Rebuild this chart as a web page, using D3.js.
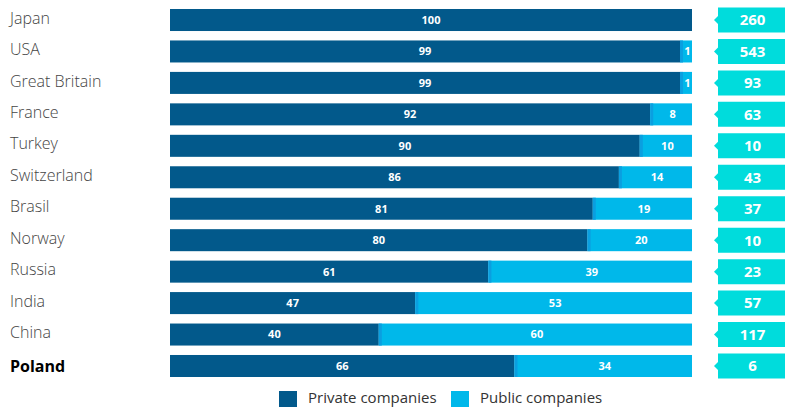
<!DOCTYPE html>
<html>
<head>
<meta charset="utf-8">
<script src="https://cdn.jsdelivr.net/npm/d3@7"></script>
<style>
  html, body { margin: 0; padding: 0; background: #fff; }
  svg { display: block; font-family: "Open Sans", sans-serif; }
</style>
</head>
<body>
<svg id="chart" width="785" height="407"></svg>
<script>
const countries = ["Japan", "USA", "Great Britain", "France", "Turkey", "Switzerland", "Brasil", "Norway", "Russia", "India", "China", "Poland"];
const privateShare = [100, 99, 99, 92, 90, 86, 81, 80, 61, 47, 40, 66];
const publicShare = [0, 1, 1, 8, 10, 14, 19, 20, 39, 53, 60, 34];
const companyCounts = [260, 543, 93, 63, 10, 43, 37, 10, 23, 57, 117, 6];
const seriesNames = ["Private companies", "Public companies"];
const highlighted = "Poland";

const colors = { private: "#02598b", public: "#00b8ea", edge: "#0a9fe0", count: "#00dcdc" };

const svg = d3.select("#chart");

const y = d3.scaleBand().domain(countries).range([9, 377]).paddingInner(0.3).paddingOuter(0);
const x = d3.scaleLinear().domain([0, 100]).range([170, 692]);
const minPublicWidth = 12; // keep tiny public shares wide enough for their label

const rows = svg.selectAll("g.row")
  .data(countries.map((c, i) => {
    const priv = privateShare[i], pub = publicShare[i];
    let split = x(priv);
    if (pub > 0) split = Math.min(split, x(priv + pub) - minPublicWidth);
    return { c, priv, pub, n: companyCounts[i], split };
  }))
  .join("g").attr("class", "row")
  .attr("transform", d => `translate(0,${y(d.c)})`);

const bh = y.bandwidth();

// country labels
rows.append("text")
  .attr("x", 10).attr("y", d => d.c === highlighted ? bh / 2 : bh / 2 - 2).attr("dy", "0.35em")
  .attr("font-size", 16)
  .attr("font-weight", d => d.c === highlighted ? 700 : 300)
  .attr("fill", d => d.c === highlighted ? "#000" : "#444")
  .text(d => d.c);

// private segment
rows.append("rect")
  .attr("x", x(0)).attr("y", 0)
  .attr("width", d => d.split - x(0)).attr("height", bh)
  .attr("fill", colors.private);

// public segment
const pubRows = rows.filter(d => d.pub > 0);
pubRows.append("rect")
  .attr("x", d => d.split).attr("y", 0)
  .attr("width", d => x(d.priv + d.pub) - d.split).attr("height", bh)
  .attr("fill", colors.public);
pubRows.append("rect")
  .attr("x", d => d.split).attr("y", 0)
  .attr("width", 3).attr("height", bh)
  .attr("fill", colors.edge);

// segment values
rows.append("text")
  .attr("x", d => (x(0) + d.split) / 2).attr("y", bh / 2).attr("dy", "0.36em")
  .attr("text-anchor", "middle").attr("font-size", 11).attr("font-weight", 700)
  .attr("fill", "#fff").text(d => d.priv);
pubRows.append("text")
  .attr("x", d => (d.split + 3 + x(d.priv + d.pub)) / 2).attr("y", bh / 2).attr("dy", "0.36em")
  .attr("text-anchor", "middle").attr("font-size", 11).attr("font-weight", 700)
  .attr("fill", "#fff").text(d => d.pub);

// company-count callouts
const bx = 718, bw = 67, boxH = 25;
rows.append("path")
  .attr("d", () => {
    const t = bh / 2 - boxH / 2, m = bh / 2;
    return `M${bx},${t}H${bx + bw}V${t + boxH}H${bx}V${m + 4}L${bx - 4},${m}L${bx},${m - 4}Z`;
  })
  .attr("fill", colors.count);
rows.append("text")
  .attr("x", bx + bw / 2 + 1).attr("y", bh / 2).attr("dy", "0.36em")
  .attr("text-anchor", "middle").attr("font-size", 15).attr("font-weight", 700)
  .attr("fill", "#fff").text(d => d.n);

// legend
const legend = svg.append("g").attr("transform", "translate(0,398)");
const legendItems = [
  { name: seriesNames[0], color: colors.private, x: 279 },
  { name: seriesNames[1], color: colors.public, x: 451 }
];
const li = legend.selectAll("g").data(legendItems).join("g")
  .attr("transform", d => `translate(${d.x},0)`);
li.append("rect").attr("x", 0).attr("y", -7).attr("width", 18).attr("height", 18).attr("fill", d => d.color);
li.append("text").attr("x", 29).attr("y", 0).attr("dy", "0.35em")
  .attr("font-size", 15).attr("fill", "#333").text(d => d.name);
</script>
</body>
</html>
